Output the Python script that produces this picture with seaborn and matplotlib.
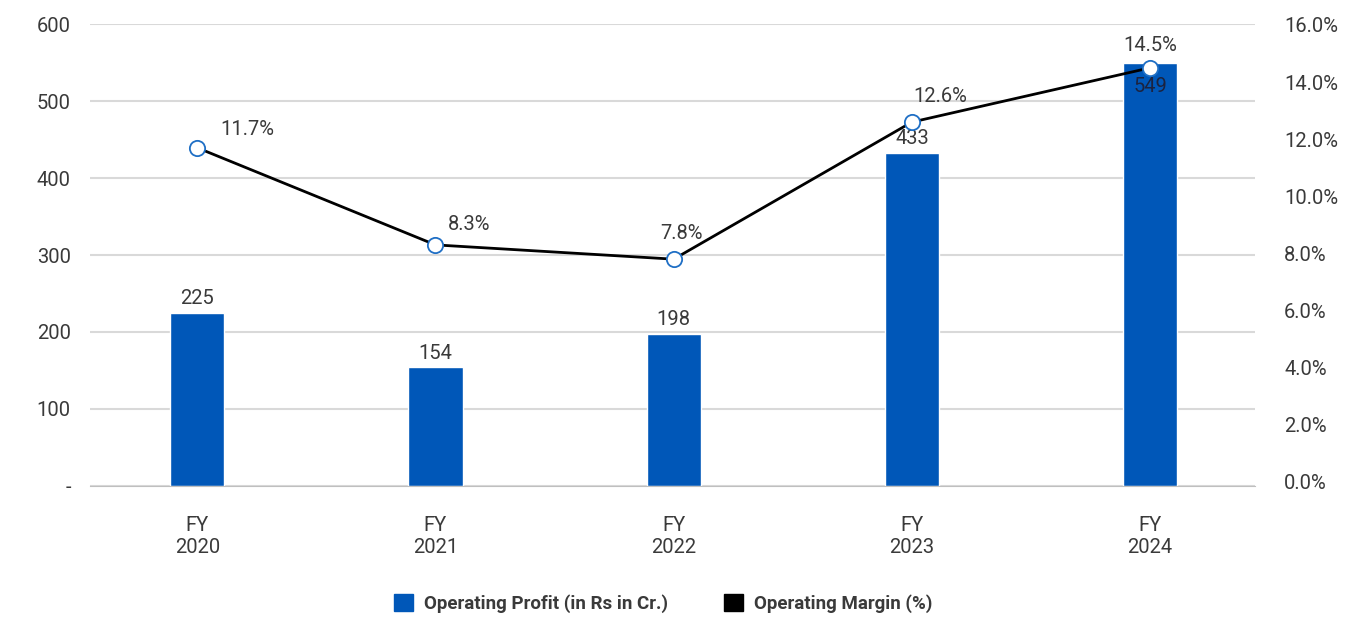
import matplotlib
matplotlib.use("Agg")
import matplotlib.pyplot as plt
import numpy as np
import pandas as pd
import seaborn as sns
from matplotlib.patches import Patch
from matplotlib.ticker import FuncFormatter

years = ["FY\n2020", "FY\n2021", "FY\n2022", "FY\n2023", "FY\n2024"]
operating_profit = [225, 154, 198, 433, 549]
operating_margin = [11.7, 8.3, 7.8, 12.6, 14.5]

blue = "#0057B8"
grey_text = "#3a3a3a"

sns.set_style("white")
plt.rcParams["font.family"] = ["Roboto", "DejaVu Sans"]

df = pd.DataFrame({"year": years, "profit": operating_profit,
                   "margin": operating_margin, "pos": np.arange(len(years))})

fig = plt.figure(figsize=(13.45, 6.19), dpi=100)
ax = fig.add_axes([0.067, 0.215, 0.866, 0.746])

sns.barplot(df, x="year", y="profit", color=blue, width=0.227,
            saturation=1, ax=ax, zorder=2)
ax.set_ylim(0, 600)
ax.set_yticks(range(0, 601, 100))
ax.yaxis.set_major_formatter(FuncFormatter(lambda v, p: "-" if v == 0 else f"{v:.0f}"))
ax.yaxis.grid(True, color="#d9d9d9", lw=1.5, zorder=0)
ax.set_axisbelow(True)
ax.set_xlabel("")
ax.set_ylabel("")
ax.set_xlim(-0.45, 4.44)
for s in ["top", "right", "left"]:
    ax.spines[s].set_visible(False)
ax.spines["bottom"].set_color("#bfbfbf")
ax.tick_params(axis="both", length=0, labelsize=14.5, colors=grey_text, pad=14)
ax.tick_params(axis="x", pad=22)

# bar value labels
for i, v in enumerate(operating_profit):
    if i == len(operating_profit) - 1:
        ax.text(i, v - 18, f"{v}", ha="center", va="top", fontsize=14.5, color="#1b2340")
    else:
        ax.text(i, v + 6, f"{v}", ha="center", va="bottom", fontsize=14.5, color=grey_text)

ax2 = ax.twinx()
sns.lineplot(df, x="pos", y="margin", color="black", lw=2, marker="o",
             markersize=11, markerfacecolor="white", markeredgecolor="#1f6fc5",
             markeredgewidth=1.3, ax=ax2, zorder=3)
ax2.set_ylim(-0.14, 16.03)
ax2.set_yticks(np.arange(0, 16.1, 2))
ax2.yaxis.set_major_formatter(FuncFormatter(lambda v, p: f"{v:.1f}%"))
ax2.set_xlabel("")
ax2.set_ylabel("")
for s in ax2.spines.values():
    s.set_visible(False)
ax2.tick_params(axis="y", length=0, labelsize=14.5, colors=grey_text, pad=21)

label_offsets = [(50, 18), (34, 20), (8, 26), (28, 26), (0, 22)]
for i, v in enumerate(operating_margin):
    dx, dy = label_offsets[i]
    ax2.annotate(f"{v}%", (i, v), xytext=(dx * 0.72, dy * 0.72),
                 textcoords="offset points", ha="center", va="center",
                 fontsize=14.5, color=grey_text)

handles = [Patch(color=blue, label="Operating Profit (in Rs in Cr.)"),
           Patch(color="black", label="Operating Margin (%)")]
fig.legend(handles=handles, loc="center", bbox_to_anchor=(0.493, 0.025), ncol=2,
           frameon=False, prop={"weight": "bold", "size": 13.5},
           handlelength=1.0, handleheight=1.0, handletextpad=0.6,
           columnspacing=3.0, labelcolor=grey_text)

fig.savefig("out.png", dpi=100)
